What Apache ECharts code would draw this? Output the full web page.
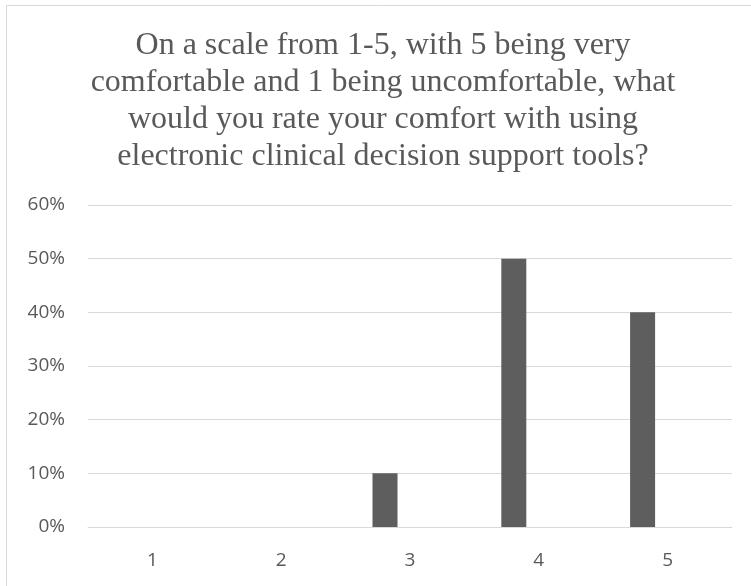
<!DOCTYPE html>
<html>
<head>
<meta charset="utf-8">
<script src="https://cdn.jsdelivr.net/npm/echarts@6/dist/echarts.min.js"></script>
<style>
  html, body { margin: 0; padding: 0; background: #ffffff; }
  #chart { width: 751px; height: 586px; }
</style>
</head>
<body>
<div id="chart"></div>
<script>
// Survey: comfort rating with electronic clinical decision support tools
const titleText = 'On a scale from 1-5, with 5 being very\ncomfortable and 1 being uncomfortable, what\nwould you rate your comfort with using\nelectronic clinical decision support tools?';
const ratings = ['1', '2', '3', '4', '5'];
const responseShare = [0, 0, 10, 50, 40];   // percent of respondents
const spareSeries = [];                      // empty companion series (keeps bar slot layout)
const yTicks = { min: 0, max: 60, interval: 10 };

const chart = echarts.init(document.getElementById('chart'), null, { renderer: 'canvas' });

chart.setOption({
  animation: false,
  backgroundColor: '#ffffff',
  graphic: [{
    type: 'rect',
    shape: { x: 6.5, y: 5.5, width: 900, height: 900 },
    style: { fill: 'none', stroke: '#d9d9d9', lineWidth: 1 },
    silent: true,
    z: 0
  }],
  title: {
    text: titleText,
    left: 378,
    top: 22,
    textAlign: 'center',
    textStyle: {
      fontFamily: '"Liberation Serif", "Times New Roman", serif',
      fontSize: 32,
      fontWeight: 'normal',
      lineHeight: 37,
      color: '#595959'
    }
  },
  grid: { left: 88, right: 19, top: 205, bottom: 59, containLabel: false },
  xAxis: {
    type: 'category',
    data: ratings,
    axisLine: { show: true, lineStyle: { color: '#d9d9d9', width: 1 } },
    axisTick: { show: false },
    axisLabel: {
      margin: 24,
      fontFamily: '"Open Sans", sans-serif',
      fontSize: 19,
      color: '#595959'
    },
    splitLine: { show: false }
  },
  yAxis: {
    type: 'value',
    min: yTicks.min,
    max: yTicks.max,
    interval: yTicks.interval,
    axisLine: { show: false },
    axisTick: { show: false },
    axisLabel: {
      margin: 23,
      formatter: '{value}%',
      fontFamily: '"Open Sans", sans-serif',
      fontSize: 19,
      color: '#595959'
    },
    splitLine: { show: true, lineStyle: { color: '#d9d9d9', width: 1 } }
  },
  series: [
    {
      name: 'Responses',
      type: 'bar',
      data: responseShare,
      barWidth: 25,
      barGap: '100%',
      itemStyle: { color: '#5e5e5e' }
    },
    {
      name: 'Spare',
      type: 'bar',
      data: spareSeries,
      barWidth: 25,
      barGap: '100%'
    }
  ]
});
</script>
</body>
</html>
